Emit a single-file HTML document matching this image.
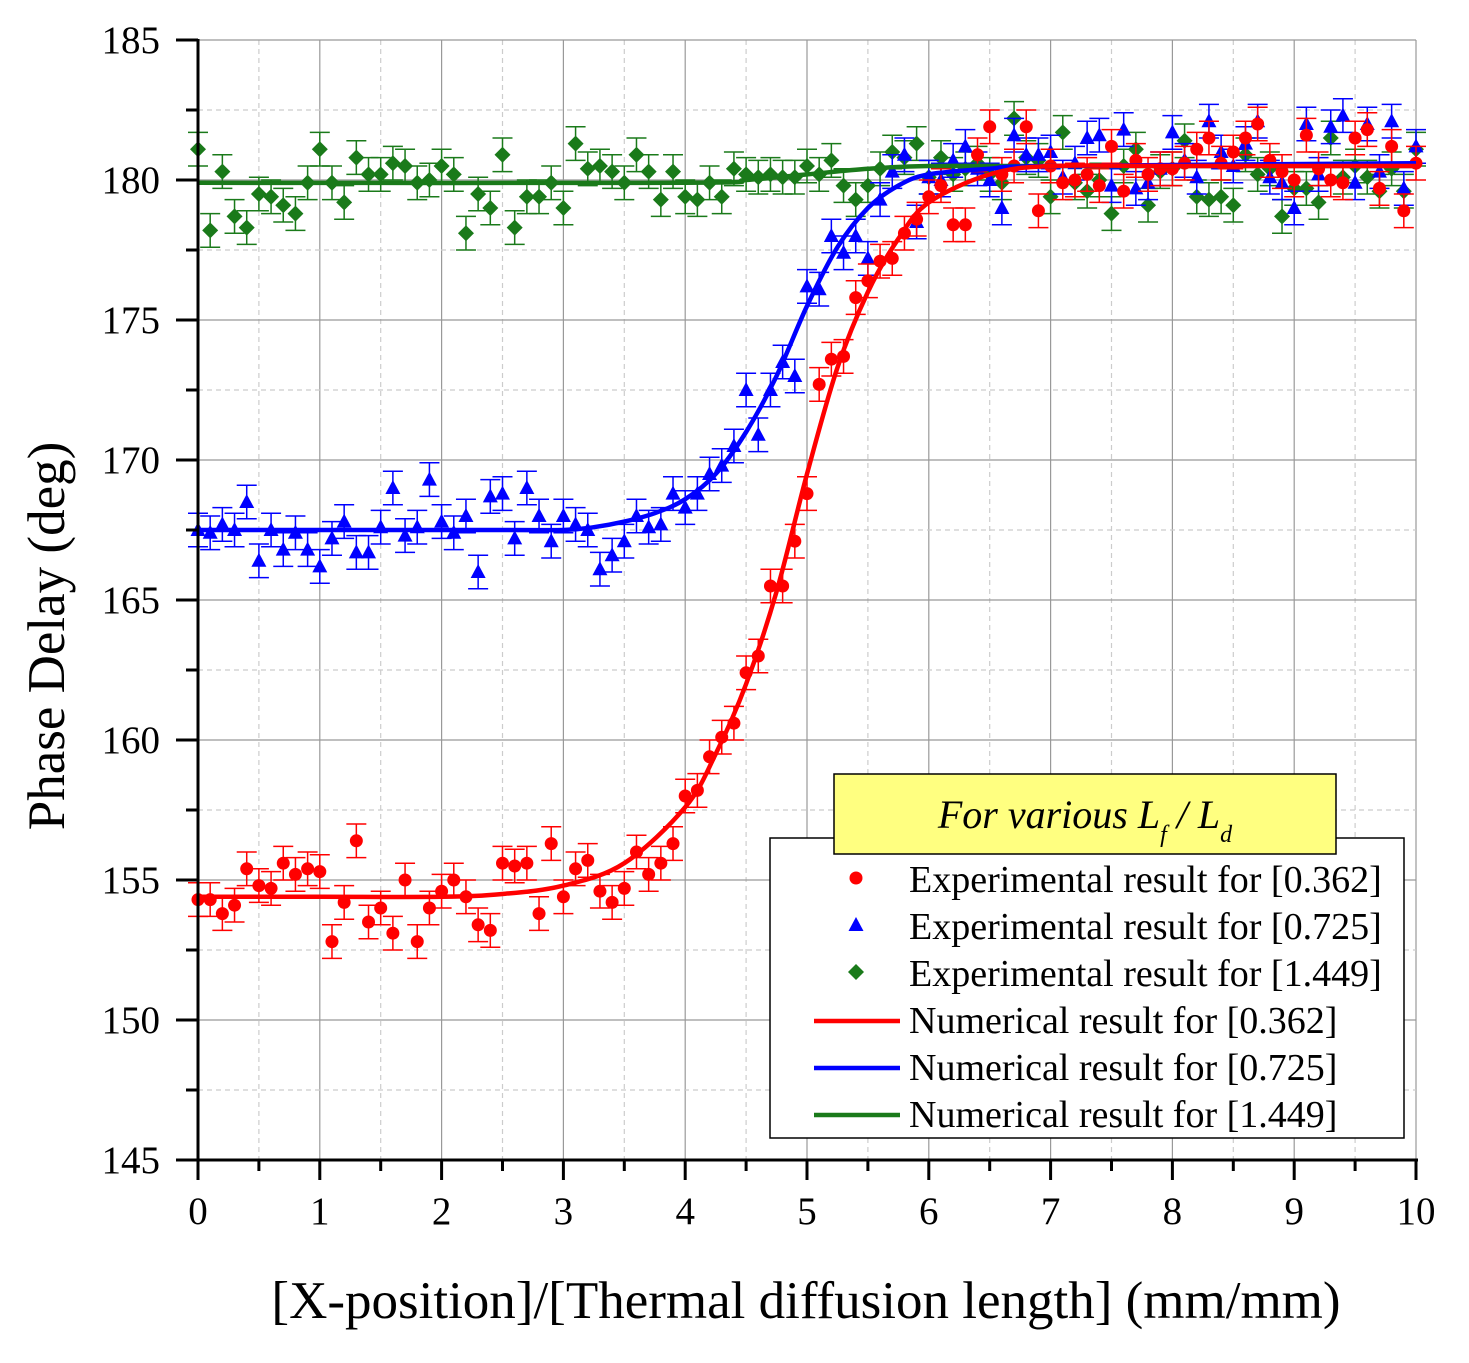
<!DOCTYPE html>
<html><head><meta charset="utf-8"><style>
body{margin:0;background:#fff}
svg{display:block;font-family:"Liberation Serif",serif}
</style></head><body>
<svg id="chart" width="1469" height="1363" viewBox="0 0 1469 1363" xmlns="http://www.w3.org/2000/svg">
<g id="grid"></g>
<g id="series"></g>
<g id="axes"></g>
<text x="64" y="636" font-size="53" text-anchor="middle" transform="rotate(-90 64 636)">Phase Delay (deg)</text>
<text x="806" y="1318" font-size="53" text-anchor="middle">[X-position]/[Thermal diffusion length] (mm/mm)</text>
<g id="legend">
<rect x="770" y="838" width="634" height="300" fill="#fff" stroke="#000" stroke-width="1.5"/>
<rect x="834" y="774" width="502" height="80" fill="#ffff80" stroke="#000" stroke-width="1.5"/>
<text x="1085" y="828" font-size="40" font-style="italic" text-anchor="middle">For various L<tspan font-size="24" dy="14">f</tspan><tspan dy="-14"> / L</tspan><tspan font-size="24" dy="14">d</tspan></text>
</g>
</svg>
<script>
const xs=[];for(let i=0;i<=100;i++)xs.push(i/10);
const red=[154.3,154.3,153.8,154.1,155.4,154.8,154.7,155.6,155.2,155.4,155.3,152.8,154.2,156.4,153.5,154.0,153.1,155.0,152.8,154.0,154.6,155.0,154.4,153.4,153.2,155.6,155.5,155.6,153.8,156.3,154.4,155.4,155.7,154.6,154.2,154.7,156.0,155.2,155.6,156.3,158.0,158.2,159.4,160.1,160.6,162.4,163.0,165.5,165.5,167.1,168.8,172.7,173.6,173.7,175.8,176.4,177.1,177.2,178.1,178.6,179.4,179.8,178.4,178.4,180.9,181.9,180.2,180.5,181.9,178.9,180.5,179.9,180.0,180.2,179.8,181.2,179.6,180.7,180.2,180.4,180.4,180.6,181.1,181.5,180.6,181.0,181.5,182.0,180.7,180.3,180.0,181.6,180.4,180.0,179.9,181.5,181.8,179.7,181.2,178.9,180.6];
const blue=[167.5,167.4,167.7,167.5,168.5,166.4,167.5,166.8,167.4,166.8,166.2,167.2,167.8,166.7,166.7,167.6,169.0,167.3,167.6,169.3,167.8,167.4,168.0,166.0,168.7,168.8,167.2,169.0,168.0,167.1,168.0,167.7,167.5,166.1,166.6,167.1,168.0,167.6,167.7,168.8,168.3,168.8,169.5,169.8,170.5,172.5,170.9,172.5,173.5,173.0,176.2,176.1,178.0,177.4,178.0,177.2,179.3,180.3,180.9,178.5,180.1,180.0,180.7,181.2,180.4,180.0,179.0,181.6,180.9,180.9,181.0,180.1,180.6,181.5,181.6,179.8,181.8,179.7,179.9,180.4,181.7,180.7,180.1,182.1,181.0,180.5,181.3,182.1,180.1,179.9,179.0,182.0,180.2,181.9,182.3,179.9,182.0,180.3,182.1,179.7,181.2];
const green=[181.1,178.2,180.3,178.7,178.3,179.5,179.4,179.1,178.8,179.9,181.1,179.9,179.2,180.8,180.2,180.2,180.6,180.5,179.9,180.0,180.5,180.2,178.1,179.5,179.0,180.9,178.3,179.4,179.4,179.9,179.0,181.3,180.4,180.5,180.3,179.9,180.9,180.3,179.3,180.3,179.4,179.3,179.9,179.4,180.4,180.2,180.1,180.2,180.1,180.1,180.5,180.2,180.7,179.8,179.3,179.8,180.4,181.0,180.8,181.3,180.1,180.8,180.2,180.4,180.6,180.2,179.9,182.2,180.8,180.7,179.4,181.7,179.9,179.6,180.0,178.8,180.5,181.1,179.1,180.3,180.4,181.4,179.4,179.3,179.4,179.1,180.9,180.2,180.4,178.7,179.7,179.7,179.2,181.5,180.1,180.5,180.1,179.6,180.4,179.6,181.1];
const errs=[0.6,0.6,0.6];
const redFitX=[0,1,2,2.5,3,3.5,4,4.25,4.5,4.75,5,5.25,5.5,5.75,6,6.5,7,8,10];
const redFitY=[154.4,154.4,154.4,154.5,154.8,155.6,157.6,159.5,162.0,165.3,169.5,173.3,176.0,177.9,179.2,180.2,180.5,180.5,180.5];
const blueFitX=[0,2.5,3,3.25,3.5,3.75,4,4.25,4.5,4.75,5,5.25,5.5,5.75,6,6.5,7,10];
const blueFitY=[167.5,167.5,167.5,167.6,167.8,168.1,168.6,169.5,171.0,173.0,175.5,177.6,179.0,179.8,180.2,180.4,180.5,180.6];
const greenFitX=[0,4,4.5,5,5.5,6,7,10];
const greenFitY=[179.9,179.9,180.0,180.2,180.4,180.5,180.5,180.5];
const xTicks=[0,1,2,3,4,5,6,7,8,9,10];
const yTicks=[145,150,155,160,165,170,175,180,185];

const X0=198,X1=1416,Y0=1160,Y1=40;
const sx=v=>X0+(v-0)/10*(X1-X0);
const sy=v=>Y0-(v-145)/40*(Y0-Y1);
const NS="http://www.w3.org/2000/svg";
function mk(parent,tag,attrs){const e=document.createElementNS(NS,tag);for(const k in attrs)e.setAttribute(k,attrs[k]);parent.appendChild(e);return e;}
const grid=document.getElementById('grid'),axes=document.getElementById('axes'),ser=document.getElementById('series'),leg=document.getElementById('legend');

for(let v=0.5;v<10;v+=0.5){const l=mk(grid,'line',{x1:sx(v),x2:sx(v),y1:Y1,y2:Y0,stroke:Number.isInteger(v)?'#999':'#ccc','stroke-width':1.2,'stroke-dasharray':Number.isInteger(v)?'':'5,4'});

}
{const l=mk(grid,'line',{x1:X1,x2:X1,y1:Y1,y2:Y0,stroke:'#999','stroke-width':1.2});

}
for(let v=147.5;v<=185;v+=2.5){const maj=v%5===0;const l=mk(grid,'line',{x1:X0,x2:X1,y1:sy(v),y2:sy(v),stroke:maj?'#999':'#ccc','stroke-width':1.2,'stroke-dasharray':maj?'':'5,4'});

}

mk(axes,'line',{x1:X0,x2:X0,y1:Y1-1,y2:Y0+2,stroke:'#000','stroke-width':3});
mk(axes,'line',{x1:X0-2,x2:X1+2,y1:Y0,y2:Y0,stroke:'#000','stroke-width':3});
xTicks.forEach(v=>{mk(axes,'line',{x1:sx(v),x2:sx(v),y1:Y0,y2:Y0+20,stroke:'#000','stroke-width':3});
const t=mk(axes,'text',{x:sx(v),y:Y0+64,'font-size':39,'text-anchor':'middle'});t.textContent=v;

});
for(let v=0.5;v<10;v+=1)mk(axes,'line',{x1:sx(v),x2:sx(v),y1:Y0,y2:Y0+11,stroke:'#000','stroke-width':3});
yTicks.forEach(v=>{mk(axes,'line',{x1:X0-22,x2:X0,y1:sy(v),y2:sy(v),stroke:'#000','stroke-width':3});
const t=mk(axes,'text',{x:X0-38,y:sy(v)+13,'font-size':39,'text-anchor':'end'});t.textContent=v;

});
for(let v=147.5;v<185;v+=5)mk(axes,'line',{x1:X0-12,x2:X0,y1:sy(v),y2:sy(v),stroke:'#000','stroke-width':3});

function marker(g,shape,cx,cy,col){
 if(shape==='c')return mk(g,'circle',{cx:cx,cy:cy,r:6.5,fill:col});
 if(shape==='t')return mk(g,'polygon',{points:`${cx},${cy-8} ${cx-7.5},${cy+6} ${cx+7.5},${cy+6}`,fill:col});
 return mk(g,'polygon',{points:`${cx},${cy-8} ${cx+8},${cy} ${cx},${cy+8} ${cx-8},${cy}`,fill:col});
}
function smooth(px,py){let d=`M${px[0]},${py[0]}`;for(let i=0;i<px.length-1;i++){const p0=i?i-1:i,p3=i+2<px.length?i+2:i+1;
const c1x=px[i]+(px[i+1]-px[p0])/6,c1y=py[i]+(py[i+1]-py[p0])/6,c2x=px[i+1]-(px[p3]-px[i])/6,c2y=py[i+1]-(py[p3]-py[i])/6;
d+=`C${c1x},${c1y} ${c2x},${c2y} ${px[i+1]},${py[i+1]}`;}return d;}

const sets=[{d:green,c:'#1a7a1a',s:'d',n:'green',e:errs[2]},{d:blue,c:'#0000ff',s:'t',n:'blue',e:errs[1]},{d:red,c:'#ff0000',s:'c',n:'red',e:errs[0]}];
sets.forEach(S=>{const g=mk(ser,'g',{});


S.d.forEach((v,i)=>{const cx=sx(xs[i]),cy=sy(v),t=sy(v+S.e),b=sy(v-S.e);
mk(g,'path',{d:`M${cx},${t}V${b}M${cx-10},${t}H${cx+10}M${cx-10},${b}H${cx+10}`,stroke:S.c,'stroke-width':1.5,fill:'none'});
const m=marker(g,S.s,cx,cy,S.c);

});});
[[greenFitX,greenFitY,'#1a7a1a','green'],[blueFitX,blueFitY,'#0000ff','blue'],[redFitX,redFitY,'#ff0000','red']].forEach(f=>{
const p=mk(ser,'path',{d:smooth(f[0].map(sx),f[1].map(sy)),stroke:f[2],'stroke-width':4.5,fill:'none'});

});

const legItems=[['c','#ff0000','Experimental result for [0.362]'],['t','#0000ff','Experimental result for [0.725]'],['d','#1a7a1a','Experimental result for [1.449]'],['l','#ff0000','Numerical result for [0.362]'],['l','#0000ff','Numerical result for [0.725]'],['l','#1a7a1a','Numerical result for [1.449]']];
legItems.forEach((it,i)=>{const y=880+i*47;const g=mk(leg,'g',{});


if(it[0]==='l')mk(g,'line',{x1:814,x2:900,y1:y,y2:y,stroke:it[1],'stroke-width':4.5});else marker(g,it[0],856,y-2,it[1]);
const t=mk(g,'text',{x:909,y:y+12,'font-size':38});t.textContent=it[2];});
</script>
</body></html>
